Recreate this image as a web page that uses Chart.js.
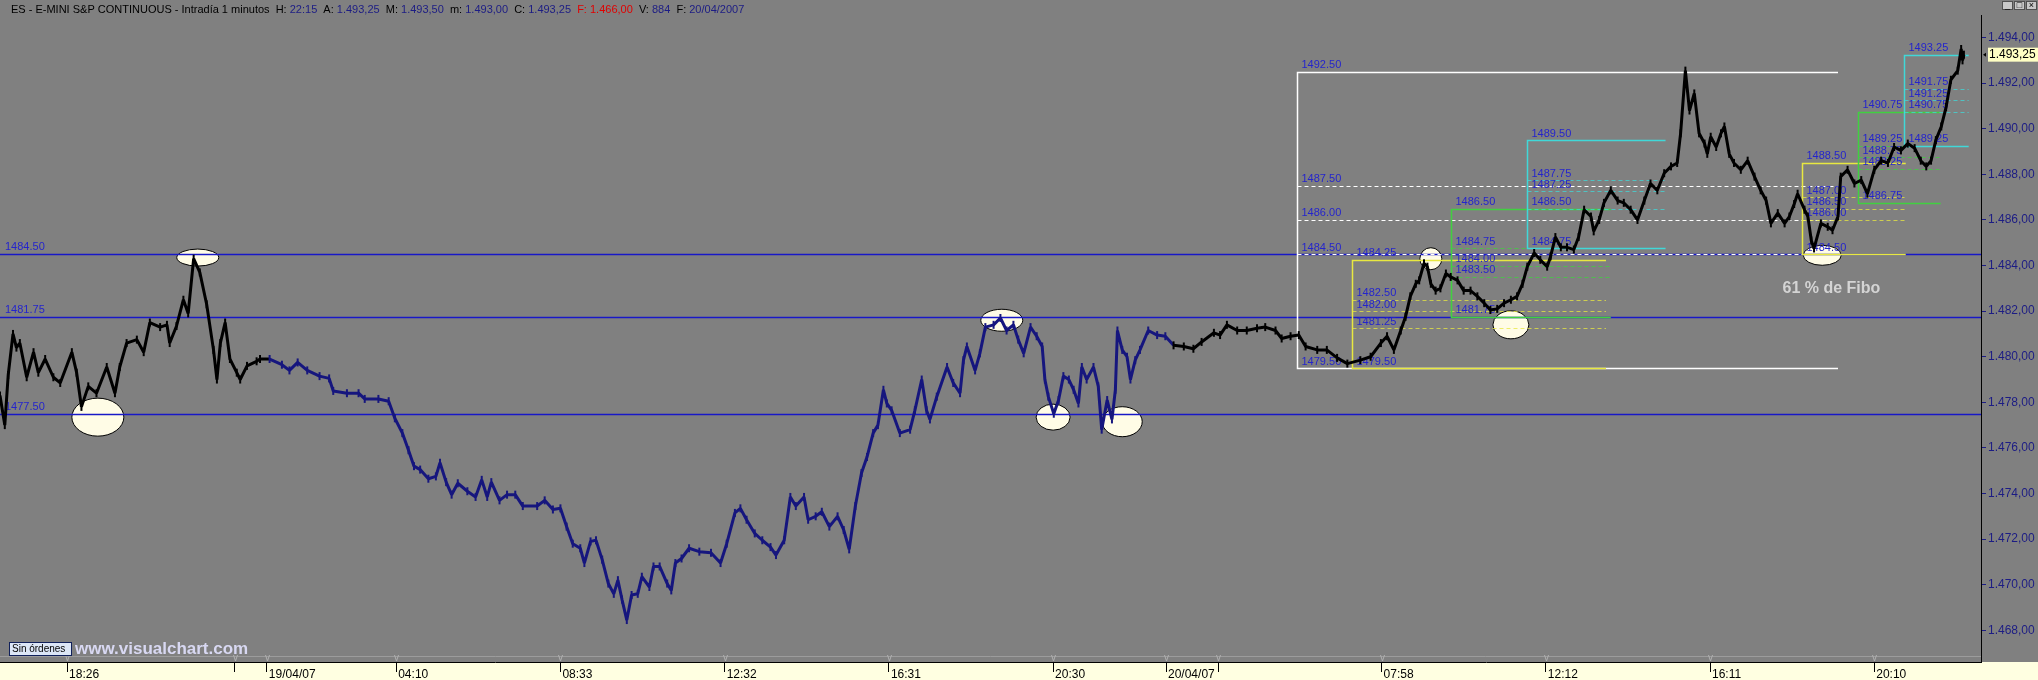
<!DOCTYPE html>
<html>
<head>
<meta charset="utf-8">
<script src="https://cdn.jsdelivr.net/npm/chart.js@4.4.1/dist/chart.umd.min.js"></script>
<style>
  html, body { margin: 0; padding: 0; background: #808080; }
  #wrap { width: 2038px; height: 680px; }
</style>
</head>
<body>
<div id="wrap"><canvas id="chart" width="2038" height="680"></canvas></div>
<script>
// 1-minute bars, x = bar number from the left edge
const priceBar = [
  0, 7, 12, 19, 24, 29, 39, 49, 56, 66, 78, 88, 105, 112, 119, 129, 141, 156,
  168, 175, 185, 200, 210, 219, 234, 244, 248, 258, 268, 275, 283, 292, 302, 312,
  317, 322, 329, 336, 346, 351, 361, 375,
  380, 394, 412, 423, 435, 449, 467, 481, 487, 507, 524, 533,
  553, 568, 577, 588, 597, 605, 614, 626, 637, 643, 652, 660,
  669, 683, 695, 704, 712, 718, 730, 741, 753, 764, 785, 796,
  808, 819, 828, 837, 848, 854, 863, 871, 880, 889, 897, 903,
  909, 916, 923, 932, 938, 949, 955, 964, 975, 981, 987, 996,
  1007, 1022, 1039, 1053, 1062, 1074, 1082, 1091, 1103, 1114, 1126, 1134,
  1146, 1155, 1163, 1175, 1181, 1192, 1201, 1212, 1224, 1233, 1241, 1250,
  1259, 1267, 1276,
  1283, 1291, 1296, 1303, 1315, 1330, 1337, 1347, 1354, 1359, 1369, 1384,
  1393, 1403, 1408, 1413, 1425, 1432, 1440, 1452, 1462, 1471, 1481, 1488,
  1496, 1506, 1515, 1523, 1527, 1532, 1540, 1547, 1554, 1562, 1569, 1576,
  1581, 1588, 1598, 1605, 1610, 1618, 1625, 1630, 1633, 1640, 1647, 1652,
  1659, 1666, 1678, 1691, 1703, 1715, 1730, 1744, 1756, 1774, 1783, 1793,
  1808, 1822, 1837, 1849, 1864, 1873, 1886, 1898, 1908, 1925, 1939, 1954,
  1969, 1988, 2003, 2018, 2027, 2037, 2047, 2054, 2061, 2069, 2074, 2081,
  2086, 2091, 2098, 2105, 2113, 2120, 2130, 2139, 2149, 2159, 2169, 2178,
  2188, 2198, 2208, 2217, 2225, 2232, 2242, 2251, 2261, 2266, 2273, 2281,
  2290, 2300, 2307, 2315, 2325, 2329, 2337, 2344, 2354, 2364, 2373, 2383,
  2393, 2403, 2412, 2422, 2432, 2442, 2451, 2456, 2463,
  2469, 2476, 2483, 2491, 2495, 2500, 2508, 2515, 2520, 2527, 2534, 2544,
  2554, 2564, 2573, 2581, 2588, 2598, 2608, 2615, 2622, 2627, 2637, 2642,
  2647, 2651, 2661, 2671, 2678, 2686, 2690, 2700, 2710, 2720, 2729, 2739,
  2749, 2759, 2768, 2778, 2788, 2798, 2807, 2815, 2822, 2829, 2837, 2844,
  2851, 2861, 2866, 2868, 2870
];
const priceClose = [
  1478.3, 1477.0, 1479.2, 1481.0, 1480.4, 1480.6, 1479.1, 1480.2, 1479.3, 1479.9, 1479.1, 1478.85, 1480.2, 1479.3, 1477.8, 1478.7, 1478.4, 1479.55,
  1478.4, 1479.55, 1480.6, 1480.75, 1480.2, 1481.5, 1481.3, 1481.4, 1480.6, 1481.35, 1482.5, 1481.9, 1484.3, 1483.7, 1482.3, 1480.3,
  1479.0, 1480.6, 1481.5, 1479.9, 1479.3, 1479.0, 1479.6, 1479.8,
  1479.9, 1479.9, 1479.65, 1479.4, 1479.75, 1479.4, 1479.15, 1479.05, 1478.5, 1478.4, 1478.4, 1478.15,
  1478.15, 1478.05, 1477.3, 1476.65, 1475.9, 1475.2, 1475.05, 1474.65, 1474.75, 1475.35, 1474.5, 1473.95,
  1474.45, 1474.1, 1473.85, 1474.6, 1473.85, 1474.5, 1473.7, 1473.95, 1473.95, 1473.45, 1473.45, 1473.7,
  1473.3, 1473.35, 1472.55, 1471.8, 1471.6, 1470.95, 1471.9, 1471.95, 1471.1, 1470.05, 1469.6, 1470.2,
  1469.35, 1468.45, 1469.55, 1469.6, 1470.35, 1469.9, 1470.8, 1470.8, 1470.05, 1469.75, 1470.95, 1471.15,
  1471.6, 1471.45, 1471.4, 1470.95, 1471.8, 1473.15, 1473.35, 1472.85, 1472.25, 1471.95, 1471.65, 1471.3,
  1471.95, 1473.85, 1473.45, 1473.85, 1472.85, 1473.0, 1473.2, 1472.55, 1473.0, 1472.4, 1471.55, 1473.45,
  1474.9, 1475.6, 1476.65,
  1477.0, 1478.55, 1477.95, 1477.65, 1476.65, 1476.8, 1477.65, 1479.0, 1477.65, 1477.25, 1478.25, 1479.55,
  1478.85, 1478.4, 1479.85, 1480.45, 1479.4, 1480.15, 1481.3, 1481.4, 1481.7, 1481.15, 1481.4, 1480.75,
  1480.15, 1481.3, 1480.9, 1480.45, 1479.0, 1478.25, 1477.5, 1478.1, 1479.15, 1479.0, 1478.55, 1477.95,
  1479.55, 1479.0, 1479.55, 1478.7, 1476.8, 1478.1, 1477.25, 1478.55, 1481.15, 1480.3, 1480.0, 1479.0,
  1479.85, 1480.3, 1481.15, 1480.95, 1480.9, 1480.5, 1480.45, 1480.35, 1480.65, 1481.05, 1480.95, 1481.4,
  1481.15, 1481.15, 1481.25, 1481.3, 1481.15, 1480.8, 1480.9, 1480.95, 1480.45, 1480.3, 1480.3, 1479.95,
  1479.7, 1479.85, 1480.0, 1480.6, 1480.9, 1480.3, 1481.15, 1481.75, 1482.65, 1483.2, 1483.35, 1484.1,
  1483.95, 1483.2, 1482.9, 1483.0, 1483.65, 1483.5, 1483.35, 1482.9, 1482.9, 1482.65, 1482.35, 1482.05,
  1482.1, 1482.35, 1482.5, 1482.65, 1483.2, 1483.95, 1484.55, 1484.25, 1483.95, 1484.4, 1485.25, 1484.8,
  1484.8, 1484.7, 1485.25, 1486.45, 1486.15, 1485.5, 1486.0, 1486.75, 1487.3, 1486.85, 1486.75, 1486.45,
  1486.0, 1486.85, 1487.6, 1487.3, 1488.05, 1488.35, 1488.5, 1489.8, 1492.55,
  1490.8, 1491.55, 1489.8, 1489.35, 1488.9, 1489.65, 1489.2, 1489.8, 1490.1, 1488.9, 1488.5, 1488.2,
  1488.6, 1487.9, 1487.3, 1486.85, 1485.85, 1486.3, 1485.85, 1486.15, 1486.7, 1487.15, 1486.45, 1486.15,
  1485.1, 1484.75, 1485.85, 1485.7, 1485.55, 1486.15, 1487.9, 1488.2, 1487.6, 1487.75, 1487.15, 1488.2,
  1488.6, 1488.5, 1489.2, 1489.05, 1489.35, 1489.15, 1488.6, 1488.35, 1488.6, 1489.5, 1490.1, 1490.95,
  1492.15, 1492.55, 1493.5, 1493.0, 1493.25
];
const lastClose = 1493.25;

// sessions: bar where each one starts
const sessionStart = [0, 390, 1706];

// time axis
const tickBars = [98, 343, 390, 579, 819, 1059, 1299, 1539, 1704, 1780, 2019, 2259, 2499, 2739];
const tickLabels = ['18:26', '', '19/04/07', '04:10', '08:33', '12:32', '16:31', '20:30', '20/04/07', '', '07:58', '12:12', '16:11', '20:10'];
const priceTicks = [1468, 1470, 1472, 1474, 1476, 1478, 1480, 1482, 1484, 1486, 1488, 1490, 1492, 1494];

// support / resistance levels
const levels = [1484.50, 1481.75, 1477.50];

// fibonacci retracements
const fibStart = [1896, 1976, 2121, 2232, 2633, 2715, 2782];
const fibEnd = [2686, 2347, 2354, 2434, 2785, 2836, 2877];
const fibHigh = [1492.50, 1484.25, 1486.50, 1489.50, 1488.50, 1490.75, 1493.25];
const fibLow = [1479.50, 1479.50, 1481.75, 1484.75, 1484.50, 1486.75, 1489.25];
const fibLevels = [
  [1487.50, 1486.00, 1484.50],
  [1482.50, 1482.00, 1481.25],
  [1484.75, 1484.00, 1483.50],
  [1487.75, 1487.25, 1486.50],
  [1487.00, 1486.50, 1486.00],
  [1489.25, 1488.75, 1488.25],
  [1491.75, 1491.25, 1490.75]
];

// marked turning points
const circleBar = [143, 289, 1464, 1539, 1640, 2091, 2208, 2663];
const circlePrice = [1477.35, 1484.35, 1481.6, 1477.35, 1477.15, 1484.3, 1481.4, 1484.45];

const noteText = '61 % de Fibo';
const noteBar = 2605;
const notePrice = 1483.0;

// ---------------------------------------------------------------

const FONT = 'Arial, "Liberation Sans", sans-serif';
const NAVY = '#1c1c84';
const LABEL_BLUE = '#2424cc';
const sessionColor = ['#000000', '#16167e', '#000000'];
const fibColor = ['#ffffff', '#e8e840', '#40d040', '#40d8d8', '#e8e840', '#40d040', '#40d8d8'];
const circleRadii = [[26, 19], [21, 8.5], [21, 11], [17, 13], [20, 15], [11, 11], [18, 14], [19, 10]];

function fmtEs(v) {
  const s = v.toFixed(2).replace('.', ',');
  return s.slice(0, 1) + '.' + s.slice(1);
}

function colorAt(bar) {
  let c = sessionColor[0];
  sessionStart.forEach((s, i) => { if (bar >= s) c = sessionColor[i]; });
  return c;
}

const priceData = priceBar.map((b, i) => ({ x: b, y: priceClose[i] }));

const backdrop = {
  id: 'backdrop',
  beforeDraw(chart) {
    const ctx = chart.ctx;
    ctx.save();
    ctx.fillStyle = '#808080';
    ctx.fillRect(0, 0, chart.width, chart.height);
    ctx.fillStyle = '#ffffe1';
    ctx.fillRect(0, chart.chartArea.bottom, chart.width, chart.height - chart.chartArea.bottom);
    ctx.restore();
  }
};

const annotations = {
  id: 'annotations',
  beforeDatasetsDraw(chart) {
    const { ctx, chartArea: a, scales: { x, y } } = chart;
    ctx.save();
    ctx.beginPath();
    ctx.rect(a.left, a.top, a.right - a.left, a.bottom - a.top);
    ctx.clip();

    // circles
    circleBar.forEach((b, i) => {
      ctx.beginPath();
      ctx.ellipse(x.getPixelForValue(b), y.getPixelForValue(circlePrice[i]),
        circleRadii[i][0], circleRadii[i][1], 0, 0, Math.PI * 2);
      ctx.fillStyle = '#fffce6';
      ctx.fill();
      ctx.strokeStyle = '#000';
      ctx.lineWidth = 1;
      ctx.stroke();
    });

    // level lines
    ctx.font = '11px ' + FONT;
    ctx.textBaseline = 'bottom';
    levels.forEach(v => {
      const py = Math.round(y.getPixelForValue(v)) + 0.5;
      ctx.strokeStyle = '#1818c8';
      ctx.lineWidth = 1.5;
      ctx.beginPath();
      ctx.moveTo(a.left, py);
      ctx.lineTo(a.right, py);
      ctx.stroke();
      ctx.fillStyle = LABEL_BLUE;
      ctx.fillText(v.toFixed(2), a.left + 5, py - 2);
    });

    // fibonacci boxes
    fibStart.forEach((s, i) => {
      const xs = Math.round(x.getPixelForValue(s)) + 0.5;
      const xe = x.getPixelForValue(fibEnd[i]);
      const yh = Math.round(y.getPixelForValue(fibHigh[i])) + 0.5;
      const yl = Math.round(y.getPixelForValue(fibLow[i])) + 0.5;
      ctx.setLineDash([4, 3]);
      ctx.lineWidth = 1;
      ctx.strokeStyle = fibColor[i];
      ctx.globalAlpha = i === 0 ? 1 : 0.75;
      fibLevels[i].forEach(v => {
        const py = Math.round(y.getPixelForValue(v)) + 0.5;
        ctx.beginPath();
        ctx.moveTo(xs, py);
        ctx.lineTo(xe, py);
        ctx.stroke();
      });
      ctx.globalAlpha = 1;
      ctx.setLineDash([]);
      ctx.lineWidth = 1.5;
      ctx.beginPath();
      ctx.moveTo(xe, yh);
      ctx.lineTo(xs, yh);
      ctx.lineTo(xs, yl);
      ctx.lineTo(xe, yl);
      ctx.stroke();

      ctx.fillStyle = LABEL_BLUE;
      [fibHigh[i], ...fibLevels[i], fibLow[i]].forEach(v => {
        ctx.fillText(v.toFixed(2), xs + 4, y.getPixelForValue(v) - 1);
      });
    });

    // note
    ctx.font = 'bold 16px ' + FONT;
    ctx.textBaseline = 'middle';
    ctx.fillStyle = '#d4d4d4';
    ctx.fillText(noteText, x.getPixelForValue(noteBar), y.getPixelForValue(notePrice));
    ctx.restore();
  }
};

const frame = {
  id: 'frame',
  afterDraw(chart) {
    const { ctx, chartArea: a, scales: { x, y } } = chart;
    ctx.save();

    // header line
    const head = [
      ['ES - E-MINI S&P CONTINUOUS - Intradía 1 minutos  H: ', '#000'], ['22:15', NAVY],
      ['  A: ', '#000'], ['1.493,25', NAVY], ['  M: ', '#000'], ['1.493,50', NAVY],
      ['  m: ', '#000'], ['1.493,00', NAVY], ['  C: ', '#000'], ['1.493,25', NAVY],
      ['  F: ', '#e00000'], ['1.466,00', '#e00000'], ['  V: ', '#000'], ['884', NAVY],
      ['  F: ', '#000'], ['20/04/2007', NAVY]
    ];
    ctx.font = '11px ' + FONT;
    ctx.textBaseline = 'middle';
    let hx = 11;
    head.forEach(([t, c]) => {
      ctx.fillStyle = c;
      ctx.fillText(t, hx, 10);
      hx += ctx.measureText(t).width;
    });

    // window buttons
    ['_', '□', '×'].forEach((t, i) => {
      const bx = 2002 + i * 12;
      ctx.fillStyle = '#c8c8c8';
      ctx.fillRect(bx, 1, 11, 9);
      ctx.strokeStyle = '#505050';
      ctx.lineWidth = 1;
      ctx.strokeRect(bx + 0.5, 1.5, 10, 8);
      ctx.fillStyle = '#000';
      ctx.font = '9px ' + FONT;
      ctx.textAlign = 'center';
      ctx.fillText(t, bx + 5.5, 5.5);
    });
    ctx.textAlign = 'left';

    // faint rail above the time axis with small markers
    ctx.strokeStyle = '#9c9c9c';
    ctx.lineWidth = 1;
    ctx.beginPath();
    ctx.moveTo(a.left, a.bottom - 5.5);
    ctx.lineTo(a.right, a.bottom - 5.5);
    ctx.stroke();
    ctx.strokeStyle = '#b0b0b0';
    tickBars.forEach(b => {
      const px = Math.round(x.getPixelForValue(b)) + 0.5;
      ctx.beginPath();
      ctx.moveTo(px - 2, a.bottom - 7);
      ctx.lineTo(px, a.bottom - 1);
      ctx.lineTo(px + 2, a.bottom - 7);
      ctx.stroke();
    });

    // last price box
    const py = y.getPixelForValue(lastClose);
    ctx.fillStyle = '#ffffc4';
    ctx.fillRect(a.right + 7, py - 7, chart.width - a.right - 7, 14);
    ctx.fillStyle = '#000';
    ctx.beginPath();
    ctx.moveTo(a.right + 2, py);
    ctx.lineTo(a.right + 5, py - 2);
    ctx.lineTo(a.right + 5, py + 2);
    ctx.fill();
    ctx.font = '12px ' + FONT;
    ctx.fillText(fmtEs(lastClose), a.right + 8, py + 0.5);

    // order status box and watermark
    ctx.fillStyle = '#dce6f6';
    ctx.fillRect(9, 642, 63, 14);
    ctx.strokeStyle = '#10205a';
    ctx.strokeRect(9.5, 642.5, 62, 13);
    ctx.fillStyle = '#000';
    ctx.font = '10px ' + FONT;
    ctx.fillText('Sin órdenes', 12, 649.5);
    ctx.font = 'bold 17px ' + FONT;
    ctx.fillStyle = '#d8d8f2';
    ctx.fillText('www.visualchart.com', 75, 649);
    ctx.restore();
  }
};

new Chart(document.getElementById('chart'), {
  type: 'line',
  data: {
    datasets: [{
      data: priceData,
      borderColor: '#000',
      borderWidth: 3,
      borderJoinStyle: 'bevel',
      pointStyle: 'line',
      pointRotation: 90,
      pointRadius: 4,
      pointBorderWidth: 2,
      pointBorderColor: c => colorAt(c.parsed ? c.parsed.x : 0),
      tension: 0,
      segment: {
        borderColor: c => colorAt(c.p0.parsed.x)
      }
    }]
  },
  options: {
    responsive: false,
    devicePixelRatio: 1,
    animation: false,
    events: [],
    layout: { padding: { top: 15, left: 0, right: 0, bottom: 0 }, autoPadding: false },
    plugins: {
      legend: { display: false },
      tooltip: { enabled: false }
    },
    scales: {
      x: {
        type: 'linear',
        position: 'bottom',
        min: 0,
        max: 2895,
        afterFit(s) { s.height = 18; },
        afterBuildTicks(s) { s.ticks = tickBars.map(v => ({ value: v })); },
        ticks: {
          callback: (v, i) => tickLabels[i],
          autoSkip: false,
          maxRotation: 0,
          align: 'start',
          labelOffset: 2,
          padding: -5,
          color: '#000',
          font: { family: FONT, size: 12 }
        },
        grid: { drawOnChartArea: false, tickLength: 10, color: '#000' },
        border: { display: true, color: '#000', width: 1 }
      },
      y: {
        type: 'linear',
        position: 'right',
        min: 1466.61,
        max: 1494.99,
        afterFit(s) { s.width = 57; },
        afterBuildTicks(s) { s.ticks = priceTicks.map(v => ({ value: v })); },
        ticks: {
          callback: v => fmtEs(v),
          color: NAVY,
          padding: 2,
          font: { family: FONT, size: 12 }
        },
        grid: { drawOnChartArea: false, tickLength: 5, color: NAVY },
        border: { display: true, color: '#000', width: 1 }
      }
    }
  },
  plugins: [backdrop, annotations, frame]
});
</script>
</body>
</html>
